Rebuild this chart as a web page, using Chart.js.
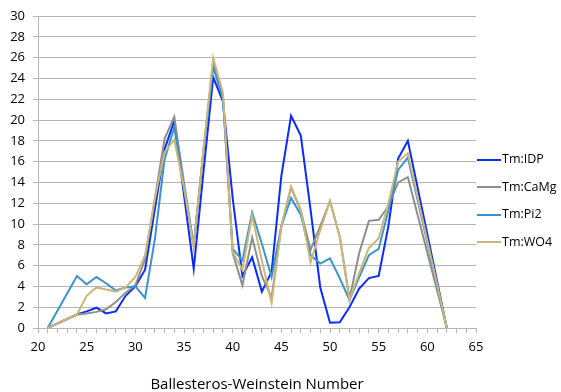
<!DOCTYPE html>
<html>
<head>
<meta charset="utf-8">
<script src="https://cdn.jsdelivr.net/npm/chart.js@4"></script>
<style>
  html, body { margin: 0; padding: 0; background: #ffffff; }
  #wrap { width: 561px; height: 392px; position: relative; }
</style>
</head>
<body>
<div id="wrap"><canvas id="c" width="561" height="392"></canvas></div>
<script>
// Ballesteros-Weinstein numbers (x positions of the vertices)
const bwNumbers = [21,24,25,26,27,28,29,30,31,32,33,34,35,36,37,38,39,40,41,42,43,44,45,46,47,48,49,50,51,52,53,54,55,56,57,58,62];

const tmIDP  = [0,1.3,1.6,1.95,1.4,1.6,3.1,4.0,5.6,11.4,17.2,19.9,12.8,5.7,15.0,24.1,21.8,12.5,5.0,6.8,3.5,5.4,14.6,20.4,18.5,11.4,3.9,0.5,0.55,2.0,3.8,4.8,5.0,9.8,16.3,18.0,0];
const tmCaMg = [0,1.3,1.4,1.55,1.8,2.5,3.4,4.1,6.6,12.4,18.2,20.3,14.0,7.9,17.0,25.5,22.3,7.2,4.1,8.7,5.0,2.9,9.8,13.5,11.3,7.5,9.8,12.2,8.8,2.8,7.2,10.3,10.4,11.7,14.0,14.5,0];
const tmPi2  = [0,5.0,4.2,4.9,4.3,3.6,3.9,4.0,2.9,8.5,16.2,19.3,13.5,8.0,17.0,25.1,22.0,7.6,6.5,11.1,8.1,4.9,9.8,12.5,10.9,7.0,6.2,6.7,4.8,2.7,4.9,7.0,7.6,11.3,15.2,16.4,0];
const tmWO4  = [0,1.3,3.1,3.9,3.7,3.5,3.9,4.9,7.0,12.4,16.9,18.1,13.5,7.8,17.2,26.0,22.6,7.3,5.6,10.8,6.5,2.4,9.8,13.6,11.4,6.3,9.4,12.2,8.8,2.7,5.3,7.7,8.6,12.0,16.0,16.8,0];

const seriesNames = ['Tm:IDP', 'Tm:CaMg', 'Tm:Pi2', 'Tm:WO4'];

// axis ranges / tick labels
const xMin = 20, xMax = 65, xLabelStep = 5;
const yMin = 0, yMax = 30, yStep = 2;
const xTitle = 'Ballesteros-Weinstein Number';

const colors = ['#0a2cf5', '#8e8e8e', '#3a93cc', '#cdb679'];
const seriesValues = [tmIDP, tmCaMg, tmPi2, tmWO4];

// legend swatch: a short horizontal line in the series colour
function swatch(color) {
  const c = document.createElement('canvas');
  c.width = 24; c.height = 2;
  const g = c.getContext('2d');
  g.fillStyle = color;
  g.fillRect(0, 0, 24, 2);
  return c;
}

const datasets = seriesNames.map((name, i) => ({
  label: name,
  data: bwNumbers.map((x, j) => ({ x: x, y: seriesValues[i][j] })),
  borderColor: colors[i],
  backgroundColor: colors[i],
  borderWidth: 2,
  pointRadius: 0,
  pointStyle: swatch(colors[i]),
  tension: 0,
  fill: false,
  order: seriesNames.length - i
}));

const gridColor = '#b4b4b4';
const FONT = '"Open Sans", "DejaVu Sans", sans-serif';
const LEGEND_PAD = 15;
const LEGEND_WIDTH = 85;
const LEGEND_BOX = 13.5;

// fix the legend width and place it right next to the plot area
const legendShift = {
  id: 'legendShift',
  beforeLayout(chart) {
    const lg = chart.legend;
    if (lg && !lg._fixedFit) {
      const orig = lg.fit.bind(lg);
      lg.fit = function () { orig(); if (!this.isHorizontal()) this.width = LEGEND_WIDTH; };
      lg._fixedFit = true;
    }
  },
  afterLayout(chart) {
    const lg = chart.legend;
    if (!lg) return;
    lg.left = chart.chartArea.right + 6.25 - LEGEND_PAD;
    lg.right = chart.width;
    lg.width = lg.right - lg.left;
    lg.top -= 3;
    lg.bottom -= 3;
  }
};

new Chart(document.getElementById('c'), {
  type: 'line',
  data: { datasets: datasets },
  plugins: [legendShift],
  options: {
    responsive: false,
    animation: false,
    layout: { padding: { left: 0, right: 0, top: 16, bottom: 0 } },
    plugins: {
      tooltip: { enabled: false },
      legend: {
        position: 'right',
        align: 'center',
        labels: {
          usePointStyle: true,
          pointStyleWidth: LEGEND_BOX,
          boxHeight: 12.5,
          padding: LEGEND_PAD,
          color: '#000000',
          font: { size: 12.5, family: FONT },
          sort: (a, b) => a.datasetIndex - b.datasetIndex
        }
      }
    },
    scales: {
      x: {
        type: 'linear',
        min: xMin,
        max: xMax,
        ticks: {
          stepSize: 1,
          autoSkip: false,
          maxRotation: 0,
          padding: 6,
          color: '#000000',
          font: { size: 13, family: FONT },
          callback: (v) => (v % xLabelStep === 0 ? String(v) : '')
        },
        grid: { display: true, drawOnChartArea: false, drawTicks: true, tickLength: 5, color: gridColor },
        border: { display: true, color: gridColor, width: 1 },
        title: { display: true, text: xTitle, color: '#000000', font: { size: 15, family: FONT }, padding: { top: 10, bottom: -2 } },
        afterFit: (s) => { s.height = 64; }
      },
      y: {
        min: yMin,
        max: yMax,
        ticks: {
          stepSize: yStep,
          padding: 8,
          color: '#000000',
          font: { size: 13, family: FONT }
        },
        grid: { color: gridColor, tickLength: 5, lineWidth: 1 },
        border: { display: true, color: gridColor, width: 1 },
        afterFit: (s) => { s.width = 38; }
      }
    }
  }
});
</script>
</body>
</html>
